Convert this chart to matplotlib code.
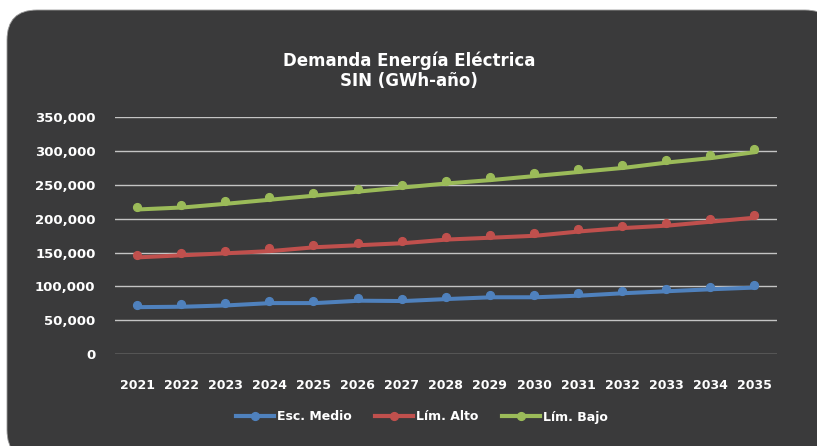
import matplotlib
matplotlib.use("Agg")
import matplotlib.pyplot as plt
from matplotlib.patches import FancyBboxPatch
from matplotlib.lines import Line2D
import matplotlib.transforms as mtransforms
import matplotlib.ticker as mticker

years = ["2021", "2022", "2023", "2024", "2025", "2026", "2027", "2028",
         "2029", "2030", "2031", "2032", "2033", "2034", "2035"]
esc_medio = [73000, 73600, 75600, 79000, 79000, 82500, 82000, 85000,
             87600, 87600, 90000, 93600, 96600, 99500, 102000]
lim_alto = [146700, 149700, 152700, 156000, 161600, 164600, 167600, 173000,
            175700, 178600, 185000, 190000, 193600, 199500, 205500]
lim_bajo = [217500, 220400, 226000, 232000, 238000, 244000, 250000, 256000,
            261000, 267000, 273000, 279000, 287000, 293600, 302500]
series_names = ["Esc. Medio", "Lím. Alto", "Lím. Bajo"]
colors = ["#4f81bd", "#c0504d", "#9bbb59"]

BG = "#3a3a3b"
W, H = 817, 446
fig = plt.figure(figsize=(W / 100, H / 100), dpi=100)
fig.patch.set_facecolor("white")

bg = FancyBboxPatch((0.07, -0.14), 8.28, 4.50,
                    boxstyle="round,pad=0,rounding_size=0.30",
                    transform=fig.dpi_scale_trans, facecolor=BG,
                    edgecolor="#9a9a9a", linewidth=0.6, zorder=-10)
fig.add_artist(bg)

left, right = 115 / W, 776.5 / W
bottom, top = (H - 354) / H, (H - 117.3) / H
ax = fig.add_axes([left, bottom, right - left, top - bottom])
ax.set_facecolor("none")

x = list(range(len(years)))
line_tr = mtransforms.offset_copy(ax.transData, fig=fig, x=2, y=-2.5, units="dots")
for vals, c in zip([esc_medio, lim_alto, lim_bajo], colors):
    ax.plot(x, vals, color=c, lw=2.9, transform=line_tr, solid_capstyle="round", zorder=3)
    ax.plot(x, vals, color=c, lw=0, marker="o", ms=5.6, zorder=4)

ax.set_xlim(-0.5, len(years) - 0.5)
ax.set_ylim(0, 350000)
ax.set_yticks(range(0, 350001, 50000))
ax.yaxis.set_major_formatter(mticker.FuncFormatter(lambda v, p: f"{int(v):,}"))
ax.set_xticks(x)
ax.set_xticklabels(years)
ax.grid(axis="y", color="#c4c4c4", lw=1.0)
ax.set_axisbelow(True)
for s in ax.spines.values():
    s.set_visible(False)
ax.tick_params(axis="both", length=0, colors="white")
ax.tick_params(axis="y", pad=14)
ax.tick_params(axis="x", pad=18)
for lab in ax.get_yticklabels():
    lab.set_fontweight("bold")
    lab.set_fontsize(9.5)
for lab in ax.get_xticklabels():
    lab.set_fontweight("bold")
    lab.set_fontsize(9)

fig.text(409 / W, 1 - 71 / H, "Demanda Energía Eléctrica\nSIN (GWh-año)",
         ha="center", va="center", color="white", fontsize=12,
         fontweight="bold", linespacing=1.15)

handles = [Line2D([0], [0], color=c, lw=3, marker="o", ms=5.6) for c in colors]
leg = fig.legend(handles, series_names, loc="center", bbox_to_anchor=(422 / W, 1 - 417 / H),
                 ncol=3, frameon=False, handlelength=3.0, handletextpad=0.25,
                 columnspacing=1.9, prop={"weight": "bold", "size": 9})
for t in leg.get_texts():
    t.set_color("white")

fig.savefig("out.png", dpi=100, facecolor=fig.get_facecolor())
